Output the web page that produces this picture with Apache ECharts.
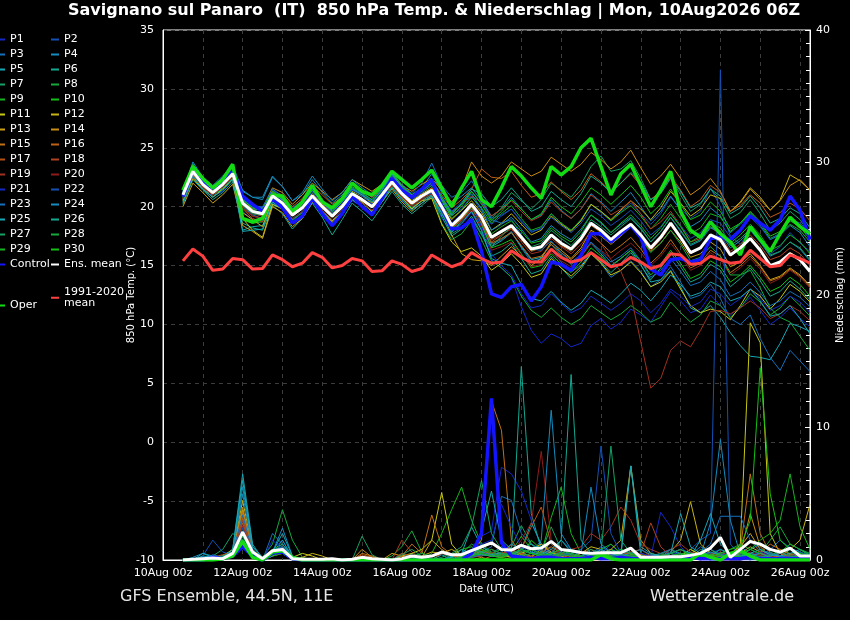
<!DOCTYPE html>
<html><head><meta charset="utf-8">
<script src="https://cdn.jsdelivr.net/npm/echarts@6/dist/echarts.min.js"></script>
<style>html,body{margin:0;padding:0;background:#000;overflow:hidden;}#c{width:850px;height:620px;}</style>
</head><body><div id="c"></div>
<script>
// ---- time axis (6-hourly, 10Aug 00z .. 26Aug 06z) ----
const dayLabels = ['10Aug','11Aug','12Aug','13Aug','14Aug','15Aug','16Aug','17Aug','18Aug','19Aug','20Aug','21Aug','22Aug','23Aug','24Aug','25Aug','26Aug'];
const hourLabels = ['00z','06z','12z','18z'];
// series start at 10Aug 12z (first two slots empty)
const leadSlots = [null, null];

// ---- 850 hPa temperature (°C), 10Aug 12z .. 26Aug 06z ----
const tP1=[20.6,22.6,21.5,20.9,21.3,22.4,19.6,18.9,18.8,20.3,19.8,18.6,19.3,20.4,19.4,18.5,19.4,20.5,20.0,19.5,20.6,21.7,20.5,19.8,20.3,21.0,19.0,17.9,18.5,19.5,18.0,15.5,14.8,14.0,11.5,9.5,8.4,9.2,8.8,8.1,8.4,9.9,10.5,9.6,10.2,11.3,10.8,10.2,11.5,12.8,12.0,11.0,11.3,12.5,11.6,10.8,11.5,12.3,11.2,10.0,10.6,11.4,10.5,9.8];
const tP2=[21.2,23.3,22.2,21.6,22.2,23.2,20.8,20.0,19.9,21.3,20.6,19.7,20.3,21.3,20.4,19.6,20.4,21.5,21.0,20.5,21.4,22.6,21.5,20.8,21.4,21.9,20.6,19.3,19.8,20.9,19.6,18.5,19.2,19.8,18.7,17.8,18.2,19.4,18.6,18.0,18.9,20.2,19.5,18.8,19.6,20.3,19.4,18.5,19.4,20.8,19.8,19.0,19.6,21.6,20.0,17.5,16.8,18.0,17.2,16.0,16.6,17.8,16.9,16.2];
const tP3=[20.8,22.8,21.8,21.0,21.7,22.6,20.0,19.3,19.0,20.6,20.0,19.0,19.6,20.6,19.7,18.8,19.7,20.8,20.3,19.7,20.7,21.9,20.8,20.0,20.6,21.2,19.6,18.2,19.0,19.9,18.6,16.8,17.2,17.9,16.5,15.3,15.6,16.4,15.3,14.5,15.0,16.2,15.2,14.0,14.6,15.4,14.5,13.2,13.8,14.9,13.6,12.2,12.5,13.4,12.2,10.5,10.0,10.8,8.8,7.2,6.1,7.8,6.9,6.0];
const tP4=[21.2,23.8,22.5,21.8,22.6,23.5,21.4,20.8,20.6,22.5,21.7,20.5,21.0,22.3,21.2,20.3,21.0,22.0,21.3,20.8,21.6,22.7,21.7,21.0,21.6,22.8,21.2,20.3,20.9,21.6,20.5,19.2,19.8,20.8,19.8,18.9,19.3,20.6,19.7,19.0,19.8,21.1,20.4,19.6,20.4,21.2,20.0,18.8,19.6,20.9,19.7,18.3,18.8,19.9,19.2,17.8,18.5,19.4,18.4,17.2,17.6,18.4,17.8,16.6];
const tP5=[20.4,22.7,21.6,21.0,21.6,22.4,18.0,18.3,18.4,20.2,19.9,18.9,19.5,20.5,19.6,18.8,19.5,20.7,20.3,19.6,20.6,21.8,20.7,19.9,20.5,21.0,19.5,17.8,18.8,19.6,18.4,16.6,17.1,17.8,16.6,15.5,15.7,16.8,15.9,15.1,15.8,16.9,16.0,15.0,15.6,16.3,15.1,13.6,13.8,14.6,13.2,11.4,11.0,11.6,10.6,9.3,8.2,7.3,7.2,7.0,8.4,10.1,9.8,9.4];
const tP6=[20.2,22.3,21.4,20.6,21.2,22.1,18.6,18.2,18.0,20.1,19.4,18.1,19.0,20.3,19.1,17.6,18.9,20.3,19.6,18.8,20.0,21.3,20.2,19.4,20.1,20.8,19.2,17.5,18.1,19.2,17.7,15.8,16.2,16.9,15.6,14.3,14.6,15.8,14.8,13.9,14.7,16.0,15.3,14.4,15.2,16.1,15.0,13.8,14.8,16.1,14.9,13.6,14.0,15.1,14.6,13.2,13.9,14.8,13.7,12.4,12.8,13.7,13.0,12.1];
const tP7=[20.9,23.1,22.0,21.3,22.0,23.0,20.5,19.8,19.7,21.2,20.6,19.6,20.1,21.2,20.3,19.4,20.2,21.4,20.9,20.2,21.2,22.5,21.4,20.6,21.2,21.8,20.4,19.2,20.0,21.3,20.3,19.0,19.9,21.2,20.5,19.8,20.6,22.0,21.4,20.8,21.9,23.4,24.3,23.0,23.2,23.9,22.4,20.6,21.2,22.5,21.0,19.6,20.2,21.5,20.6,19.0,19.5,20.6,19.4,18.0,18.6,19.6,18.9,17.6];
const tP8=[20.6,22.9,21.7,21.0,21.5,22.5,18.9,18.6,18.7,20.4,19.9,18.8,19.5,20.6,19.6,18.6,19.5,20.8,20.3,19.6,20.5,21.7,20.7,19.9,20.5,21.1,18.6,17.2,17.7,18.8,17.2,15.4,14.8,14.0,12.4,11.2,10.6,11.4,10.6,10.0,10.5,11.6,11.0,10.4,10.9,11.6,11.0,10.2,10.6,11.9,11.0,10.2,10.8,12.0,11.6,10.6,11.4,12.6,11.9,10.8,11.4,12.4,11.6,10.7];
const tP9=[21.3,23.4,22.3,21.5,22.2,23.3,20.6,20.0,19.8,21.3,20.7,19.7,20.3,21.4,20.4,19.6,20.4,21.6,21.0,20.4,21.4,22.9,21.6,20.8,21.4,22.0,20.6,19.0,19.7,20.8,19.9,18.6,19.4,20.1,19.0,18.0,18.3,19.4,18.6,18.0,18.9,20.2,19.6,18.8,19.5,20.1,19.2,18.1,19.0,20.2,19.0,17.7,18.2,19.4,19.1,17.9,18.6,19.5,18.6,17.3,17.7,18.5,18.0,17.0];
const tP10=[21.1,23.2,22.0,21.3,21.9,22.9,20.2,19.5,19.3,20.9,20.2,19.2,19.8,20.9,20.0,19.1,19.9,21.2,20.6,19.9,21.0,22.2,21.1,20.2,20.8,21.5,19.8,18.1,18.9,20.0,18.5,16.5,16.8,17.2,16.0,14.8,15.0,16.0,15.1,14.4,15.3,16.5,15.8,14.9,15.6,16.3,15.4,14.2,15.1,16.3,15.2,13.9,14.3,15.4,14.9,13.6,14.2,15.0,14.0,12.8,13.2,14.0,13.4,12.4];
const tP11=[20.5,22.4,21.5,20.8,21.5,22.3,19.0,18.0,17.4,20.2,19.8,18.6,19.2,20.6,19.7,18.8,19.5,20.9,20.4,19.6,20.8,21.9,20.8,19.8,20.5,20.7,18.5,17.0,16.2,16.5,15.8,14.6,15.2,16.0,15.1,14.0,14.3,15.6,14.8,14.1,14.9,16.0,15.2,14.2,14.6,15.3,14.4,13.2,13.6,14.5,13.0,11.6,11.0,11.3,11.1,10.4,11.6,13.0,12.4,11.3,12.2,13.4,12.8,11.9];
const tP12=[20.7,22.5,21.6,21.0,21.8,22.6,19.5,18.9,18.3,20.6,20.6,19.5,20.2,21.1,20.3,19.5,20.2,21.3,20.9,20.3,21.2,22.3,21.3,20.5,21.1,21.6,20.2,18.9,19.7,20.5,19.5,18.0,18.6,19.4,18.5,17.6,18.0,19.2,18.5,17.9,18.8,20.2,19.6,18.9,19.7,20.5,19.8,18.9,19.9,21.3,20.3,19.2,19.8,21.0,20.7,19.6,20.4,21.6,20.8,19.7,20.6,22.7,22.2,21.4];
const tP13=[20.0,22.0,21.2,20.3,21.0,21.9,18.4,17.9,17.3,20.0,19.5,18.3,19.0,20.4,19.5,18.7,19.3,20.6,20.1,19.4,20.4,21.5,20.4,19.6,20.3,20.9,19.7,17.6,16.0,15.5,15.4,15.0,15.8,16.6,15.8,15.0,15.6,17.0,16.3,15.6,16.5,18.0,17.5,16.8,17.5,18.3,17.4,16.2,16.9,18.0,17.0,15.7,16.0,17.0,16.4,14.9,15.3,16.0,15.0,13.8,14.1,14.8,14.2,13.3];
const tP14=[21.0,22.7,21.9,21.4,22.3,23.2,20.4,19.8,19.9,21.6,21.2,20.2,21.0,22.0,21.3,20.6,21.2,22.3,21.8,21.3,21.9,22.6,21.8,21.3,21.9,22.4,21.4,20.4,21.5,23.8,22.6,22.0,22.6,23.8,23.2,22.6,23.0,24.2,23.6,23.0,23.6,24.6,24.0,23.2,23.8,24.8,23.3,21.9,22.6,23.6,22.4,21.0,21.6,22.4,21.3,19.6,20.3,21.5,20.6,19.7,20.5,21.8,22.3,21.4];
const tP15=[21.0,22.9,21.8,21.1,21.9,22.7,19.9,19.2,19.0,20.8,20.4,19.4,20.0,21.0,20.2,19.3,20.0,21.1,20.6,20.0,21.0,22.0,21.0,20.3,20.8,21.3,19.9,18.3,19.0,20.0,18.8,16.9,17.3,17.8,16.7,15.6,15.8,16.8,16.1,15.5,16.3,17.6,16.9,16.1,16.7,17.4,16.4,15.2,16.0,17.2,16.0,14.8,15.2,16.3,15.8,14.4,15.0,15.8,14.9,13.7,14.0,14.7,14.1,13.2];
const tP16=[20.6,22.8,21.9,21.2,22.0,23.0,20.3,19.6,19.5,21.3,21.0,20.0,20.7,21.8,21.0,20.2,20.8,22.0,21.4,20.8,21.5,22.6,21.6,20.9,21.5,22.2,21.0,19.9,20.6,21.5,23.2,22.5,22.4,23.0,21.8,20.8,21.1,22.1,21.3,20.6,21.4,22.8,22.1,21.3,22.0,22.8,21.8,20.6,21.3,22.6,21.4,20.0,20.6,21.8,21.2,19.6,20.1,21.0,20.3,19.1,19.5,20.3,19.8,18.8];
const tP17=[20.8,22.5,21.7,21.0,21.7,22.6,19.8,19.0,18.7,20.7,20.3,19.3,19.8,20.9,20.1,19.3,19.9,21.0,20.5,19.9,20.8,21.9,20.9,20.1,20.7,21.3,19.8,18.2,18.9,19.8,18.6,17.0,17.6,18.2,17.2,16.2,16.5,17.5,16.7,16.2,17.1,18.4,17.8,17.0,17.7,18.3,17.4,16.3,17.2,18.4,17.3,16.0,16.5,17.5,17.0,15.8,16.4,17.2,16.3,15.0,15.4,16.1,15.6,14.6];
const tP18=[21.0,22.8,21.8,21.3,22.0,22.9,20.1,19.4,19.2,20.9,20.4,19.3,19.9,20.9,20.0,19.2,20.0,21.1,20.6,20.0,21.0,22.1,21.1,20.3,20.9,21.6,20.6,19.6,20.2,20.9,20.4,19.2,19.8,20.5,19.6,18.8,19.2,20.4,19.6,19.0,19.8,21.0,20.3,19.3,19.8,20.5,19.4,18.1,18.7,19.6,18.4,17.0,17.3,18.3,17.6,16.2,16.8,17.6,16.7,15.5,15.8,16.5,16.0,15.0];
const tP19=[20.9,22.9,21.8,21.2,21.9,22.7,20.2,19.5,19.3,20.8,20.2,19.2,19.8,20.8,19.9,19.1,19.9,21.0,20.5,19.9,20.9,22.0,21.0,20.2,20.8,21.3,19.9,18.3,19.1,20.1,18.9,17.2,17.6,18.1,17.0,16.0,16.2,17.3,16.6,16.0,16.8,17.9,16.9,15.5,14.5,12.5,8.5,4.6,5.4,7.8,8.6,8.1,9.5,11.1,11.2,10.9,11.4,12.0,11.4,10.5,10.9,11.6,11.1,10.3];
const tP20=[20.7,22.6,21.6,21.0,21.7,22.5,19.9,19.2,19.0,20.6,20.1,19.0,19.6,20.6,19.7,18.9,19.7,20.8,20.3,19.7,20.7,21.8,20.8,20.0,20.6,21.1,19.6,18.0,18.8,19.7,18.2,16.3,16.6,17.0,15.9,14.9,15.1,16.1,15.4,14.9,15.7,16.9,16.3,15.6,16.3,16.9,16.1,15.0,15.8,16.9,15.8,14.6,15.0,16.1,15.5,14.2,14.8,15.6,14.7,13.5,13.9,14.6,14.0,13.1];
const tP21=[21.2,23.5,22.3,21.6,22.2,23.1,20.7,20.0,19.7,21.1,20.5,19.6,20.2,21.2,20.3,19.5,20.3,21.4,20.9,20.2,21.3,22.4,21.4,20.6,21.2,22.0,20.3,18.6,19.4,20.3,18.3,16.0,15.0,14.2,12.6,11.4,11.6,12.6,11.8,11.0,11.4,12.4,11.8,11.2,11.8,12.6,12.0,11.0,11.8,13.0,12.4,11.5,11.9,13.0,12.6,11.6,12.2,13.0,12.2,11.2,11.6,12.4,11.9,11.0];
const tP22=[21.1,23.1,22.0,21.3,22.0,23.0,20.6,20.0,20.0,21.4,20.9,19.9,20.5,21.4,20.5,19.7,20.4,21.5,21.1,20.5,21.4,22.6,21.6,20.8,21.5,22.2,20.9,19.6,20.4,21.3,20.3,19.0,19.3,19.8,18.8,17.9,18.1,19.1,18.4,17.8,18.6,19.8,19.2,18.4,19.0,19.7,18.8,17.6,18.3,19.4,18.4,17.3,17.8,18.9,18.6,17.4,18.1,19.1,18.3,17.2,17.8,18.9,18.6,17.8];
const tP23=[21.3,23.4,22.4,21.7,22.3,23.2,20.7,20.1,19.9,21.5,20.9,19.8,20.4,21.5,20.6,19.8,20.6,21.6,21.1,20.6,21.5,22.7,21.9,21.1,22.0,23.7,21.8,20.8,21.2,22.2,20.8,18.9,18.6,18.9,17.6,16.4,16.3,17.1,16.1,15.3,15.9,17.0,16.2,15.3,15.8,16.5,15.4,14.0,14.6,15.6,14.5,13.3,13.6,14.5,13.8,12.4,12.8,13.6,12.7,11.6,12.0,12.8,12.3,11.5];
const tP24=[21.1,23.6,22.4,21.6,22.5,23.3,21.3,20.8,20.8,22.6,21.7,20.5,21.2,22.6,21.5,20.5,21.2,22.3,21.6,21.0,21.8,22.9,21.8,21.0,21.5,22.3,20.8,19.5,20.2,21.1,19.8,18.0,18.5,19.1,18.1,17.0,17.3,18.4,17.7,17.2,18.1,19.3,18.6,17.8,18.5,19.1,18.2,17.0,17.9,19.1,17.9,16.7,17.1,18.2,17.8,16.5,17.1,18.0,17.0,15.8,16.2,17.0,16.4,15.4];
const tP25=[20.3,22.6,21.5,20.8,21.4,22.3,17.9,18.0,18.1,20.4,19.8,18.6,19.3,20.5,19.5,18.4,19.3,20.6,20.0,19.2,20.4,21.6,20.6,19.7,20.3,20.9,19.4,17.9,18.6,19.6,18.0,15.6,15.2,15.0,13.4,12.2,12.0,12.8,11.9,11.2,11.8,12.9,12.4,11.8,12.6,13.5,12.9,12.0,13.0,14.2,13.4,12.4,12.7,13.6,13.2,12.0,12.3,13.0,12.0,10.7,10.9,11.6,10.5,9.2];
const tP26=[21.4,23.3,22.4,21.7,22.3,23.3,20.6,19.9,19.7,21.1,20.6,19.6,20.3,21.4,20.4,19.6,20.4,21.5,21.0,20.4,21.4,22.8,21.6,20.8,21.3,22.1,20.6,19.3,20.3,21.5,21.1,20.0,20.6,21.6,20.6,19.6,20.0,21.3,20.6,20.0,21.1,22.6,22.0,21.2,22.0,22.9,22.1,20.6,21.1,22.4,21.3,19.9,20.3,21.5,20.9,19.4,19.9,20.9,19.9,18.6,19.0,19.9,19.4,18.2];
const tP27=[20.9,23.0,21.9,21.1,21.8,22.8,20.1,19.4,19.3,20.8,20.2,19.2,19.8,20.9,20.0,19.1,20.0,21.1,20.6,19.9,21.0,22.2,21.1,20.2,20.9,21.4,19.7,17.7,18.2,19.0,17.6,16.6,17.5,18.3,17.5,16.6,16.9,18.0,17.3,16.7,17.6,18.9,18.3,17.6,18.3,19.0,18.1,17.0,17.9,19.1,18.0,16.8,17.2,18.3,17.9,16.7,17.3,18.1,17.1,15.9,16.2,17.0,16.5,15.5];
const tP28=[20.8,23.0,21.9,21.2,21.9,22.8,20.2,19.5,19.4,20.9,20.3,19.3,19.9,20.9,20.0,19.2,20.0,21.1,20.6,20.0,21.0,22.1,21.1,20.3,20.9,21.4,20.0,18.4,19.2,20.2,19.0,17.3,17.8,18.3,17.3,16.3,16.5,17.5,16.8,16.3,17.2,18.5,17.9,17.1,17.8,18.3,17.3,16.1,16.9,18.0,16.8,15.4,15.7,16.6,15.8,14.2,14.2,14.6,13.1,11.4,10.6,10.2,9.0,7.8];
const tP29=[21.2,23.2,22.1,21.4,22.1,23.0,20.4,19.7,19.5,21.0,20.4,19.4,20.0,21.0,20.1,19.3,20.1,21.2,20.7,20.1,21.1,22.2,21.2,20.4,21.0,21.5,20.1,18.5,19.3,20.3,19.2,17.7,18.3,18.8,17.9,16.9,17.1,18.2,17.5,17.0,17.9,19.3,18.7,17.8,18.6,19.3,18.4,17.3,18.2,19.4,18.3,17.0,17.5,18.6,18.2,16.9,17.6,18.5,17.6,16.3,16.7,17.6,17.0,16.0];
const tP30=[21.4,23.6,22.4,21.6,22.3,23.4,20.6,19.9,19.8,21.3,20.7,19.7,20.4,21.4,20.5,19.7,20.5,21.7,21.2,20.6,21.6,23.0,21.8,21.0,21.6,22.2,20.8,19.4,20.2,21.3,20.2,18.8,19.6,20.6,19.8,18.9,19.4,20.8,20.0,19.4,20.4,21.6,21.0,20.2,21.0,21.8,20.8,19.4,20.2,21.5,20.2,18.9,19.3,20.4,19.6,18.1,18.6,19.6,18.7,17.5,17.9,18.8,18.3,17.2];
const tControl=[20.85,23.1,22.0,21.6,22.1,23.1,20.9,20.2,19.6,20.7,19.9,18.6,19.2,20.7,19.4,18.4,19.4,20.9,20.0,19.3,20.7,22.4,21.4,20.8,21.5,22.3,20.0,18.1,18.2,18.9,16.2,12.6,12.3,13.2,13.4,12.0,13.2,15.3,15.1,14.6,15.9,17.7,17.7,17.0,17.7,18.4,17.4,14.7,14.2,15.5,15.6,15.3,15.5,17.3,17.4,17.2,18.0,19.2,18.6,18.0,18.9,20.9,19.7,17.2];
const tOper=[21.4,23.4,22.4,21.6,22.3,23.6,19.0,18.7,19.0,21.0,20.9,19.6,20.4,21.8,20.4,19.9,20.7,22.0,21.3,21.0,21.8,23.0,22.3,21.6,22.3,23.1,21.6,20.0,21.6,23.0,20.6,20.0,21.6,23.4,22.6,21.6,20.7,23.4,22.7,23.4,25.0,25.8,23.4,21.0,22.8,23.6,21.8,20.0,21.4,23.0,19.6,18.0,17.4,18.7,17.7,17.0,15.9,18.3,17.2,16.2,17.7,19.1,18.3,17.7];
const tEnsMean=[21.0,23.0,21.9,21.2,21.9,22.8,20.3,19.6,19.4,20.9,20.3,19.3,19.9,20.9,20.0,19.2,20.0,21.1,20.6,20.0,21.0,22.1,21.1,20.3,20.9,21.4,20.0,18.4,19.2,20.2,19.1,17.4,17.9,18.4,17.4,16.4,16.6,17.6,16.9,16.4,17.3,18.6,18.0,17.2,17.9,18.5,17.6,16.5,17.4,18.6,17.4,16.1,16.5,17.6,17.2,15.9,16.5,17.3,16.3,15.0,15.3,16.0,15.5,14.5];
const tClim=[15.4,16.4,15.8,14.6,14.7,15.6,15.5,14.7,14.75,15.9,15.5,14.9,15.2,16.1,15.7,14.8,15.0,15.6,15.4,14.5,14.55,15.4,15.1,14.5,14.75,15.9,15.4,14.9,15.2,16.1,15.6,15.2,15.3,16.25,15.7,15.3,15.3,16.4,15.7,15.3,15.5,16.1,15.5,14.9,15.1,15.7,15.3,14.75,15.0,16.0,15.9,15.1,15.2,15.8,15.5,15.2,15.3,16.3,15.6,14.9,15.0,15.9,15.6,15.2];

// ---- Niederschlag (mm / 6h), 10Aug 12z .. 26Aug 06z ----
const rP1=[0,0,0,0.2,0.3,0.5,2.5,0.6,0,0.8,1.5,0.2,0,0,0,0,0,0,0,0,0,0,0,0.3,0.2,0,0.5,0.3,0.2,0.6,1.8,2.2,7.0,6.5,5.2,3.0,1.0,0.5,0.3,0.2,0,0,0.3,0.8,0.5,0,0,0.2,3.6,2.5,1.0,0.3,0,0.2,0.5,0,0,0,0.3,0.8,0.5,0.2,0,0];
const rP2=[0,0,0.3,1.5,0.6,0.4,2.2,0.5,0,0.6,0.9,0,0,0,0,0,0,0,0,0,0,0,0,0,0,0,0,0,0,0.3,0.5,0.8,0.5,0.2,0,0.3,1.2,0.8,0.2,0,0,0,0.5,1.2,0.4,0,0,0,0,0,0.3,0.8,1.5,2.0,37.0,1.2,0.3,0,0,0,0.2,0.5,0.2,0];
const rP3=[0,0,0,0.4,0.2,0.6,3.0,0.8,0,2.0,1.2,0.3,0,0,0,0,0,0,0,0,0,0,0.5,0.2,0,0,0,0,0.3,0.5,0.6,1.0,4.8,4.5,2.0,1.2,0.8,0.5,1.5,0.8,0.2,0.5,1.0,0.6,0.3,0.8,0.4,0.2,0.5,0.3,0,0.4,1.0,0.6,0.3,0.2,1.0,0.5,0.3,0.8,1.5,0.9,0.6,0.3];
const rP4=[0,0.2,0.5,0.3,0,0.5,5.5,1.0,0.2,0.6,2.4,0.3,0,0,0,0,0,0,0,0.2,0,0,0,0,0,0,0,0,0,0.3,0.3,0.5,1.0,0.6,0.3,0,0.2,0.5,0.3,0.2,0,0.4,0.3,0.2,0.6,0.5,0.3,0,0,0,0.2,0.5,0.3,2.8,9.1,3.0,0.4,0.2,0,0.3,0.5,0.2,0,0];
const rP5=[0,0,0.5,0.2,0,0.8,6.5,1.2,0.1,0.5,1.5,0.2,0,0,0,0,0,0,0,0,0,0,0,0,0,0,0.4,0,0.5,2.5,1.0,0.6,0.4,0.3,0.8,2.8,1.2,0.5,0.8,0.4,0.2,0,0.3,0.8,0.5,7.1,0.4,0.2,0.2,0.8,0.4,0.3,1.5,3.5,1.2,0.5,0.3,0.8,1.2,0.6,0.2,0,0,0];
const rP6=[0,0,0,0,0.3,0.5,3.5,0.5,0,0.3,0.8,0,0,0,0,0,0,0,0,0.3,0,0,0,0,0,0,0,0.2,0,0.3,1.0,0.5,0.3,0.6,14.6,3.5,0.8,0.3,0.6,0.2,0,0.3,0.5,0.8,0.3,0,0.2,0,0,0,0.3,0.6,0.2,0,0,0.3,0.6,0.4,0.2,0,0,0,0.3,0.1];
const rP7=[0,0,0,0.3,0.8,2.0,1.5,0.4,0,0.4,0.6,0,0,0,0,0,0,0,1.8,0.4,0,0,0,0.5,0.3,0,0,0,0.2,0.4,0.6,0.3,0.2,1.0,2.6,1.2,0.6,2.5,0.8,0.4,0,0.3,0.8,0.4,0,0.2,0.5,0.3,0.2,0,0,0.2,0.8,0.5,0.3,0,0.2,0.5,0.3,0.6,0.2,0.8,0.4,0.2];
const rP8=[0,0,0,0.1,0.2,0.8,1.8,0.5,0.2,1.2,3.8,1.5,0.2,0,0,0,0,0,0,0,0,0.3,1.0,2.2,0.6,0,0,0.2,0.5,1.2,0.8,0.5,0.3,0.5,1.2,0.8,0.5,0.3,0.2,0,0.3,0.6,0.4,0.2,0.8,0.5,0.2,0,0.4,0.8,0.2,0,0.3,0.5,0.2,0,0,0.3,0.5,0.2,0,0.4,0.6,0.3];
const rP9=[0,0,0,0,0,0.3,1.2,0.4,0,0.6,1.0,0,0,0,0,0,0,0,0,0,0,0,0,0,0,0.5,2.0,3.8,5.5,3.0,1.2,0.6,0.4,0.6,1.8,0.8,0.5,3.2,5.5,2.0,0.5,0.3,0.2,0.8,0.4,0.2,0,0.3,0.5,0.2,0,0.3,0.6,0.4,0.2,0,0,0.2,0.5,0.3,0.8,0.5,0.2,0];
const rP10=[0,0,0,0,0,0.4,1.5,0.6,0,0.8,1.2,0.3,0,0,0,0,0,0,0,0,0,0,0,0,0,0,0,0.4,0.8,1.0,0.6,0.5,0.8,0.5,0.3,1.5,0.8,0.4,0.2,0,0.3,0.5,0.8,1.2,0.5,0.3,0,0,0,0.2,0.4,0.8,0.3,0.2,0.5,0.3,0.5,0.8,0.4,0.2,0.6,1.2,0.8,0.3];
const rP11=[0,0,0,0.2,0.3,0.8,3.2,0.6,0.2,0.5,0.8,0.2,0.5,0.3,0,0,0,0,0,0,0,0,0.3,0.5,0.8,1.5,5.1,1.2,0.3,0.5,0.8,0.4,0.5,0.8,0.4,0.2,0.3,1.5,0.6,0.2,0,0.3,0.5,0.2,0,0.4,0.2,0,0,0,0.3,0.8,0.4,0.2,0,0.3,1.2,17.9,16.4,2.0,0.5,0.3,0.2,0];
const rP12=[0,0,0,0.1,0.2,0.5,4.5,0.8,0.1,0.4,0.6,0,0.2,0.5,0.3,0,0,0,0,0,0,0,0,0,0.3,0.6,0.5,0.8,0.4,0.3,0.6,0.3,0.2,0.3,0.5,0.8,1.2,0.6,0.3,0.2,0.5,1.0,0.8,0.3,0.5,0.8,0.4,0.2,0.3,0.6,1.5,4.4,1.2,0.5,0.3,0.2,0.5,1.0,0.6,0.2,0.3,0.8,1.5,4.2];
const rP13=[0,0,0,0,0.2,0.4,3.8,0.5,0,0.3,0.5,0,0,0,0,0,0,0,0,0,0,0.5,0.3,0,0.2,1.5,0.8,0.3,0.2,0.4,0.6,0.5,0.3,0.5,0.6,0.2,0.8,0.5,0.3,0.2,0,0.3,0.5,0.8,1.5,7.1,1.5,0.5,0.3,0.5,0.2,0,0.4,0.8,0.3,0.5,1.0,2.0,0.8,0.3,0.5,0.2,0,0];
const rP14=[0,0,0.1,0,0.2,0.6,4.0,0.6,0,0.5,1.0,0.2,0,0,0,0,0,0,0.8,0.2,0,0,0,0,0,0,0,0,0,0,0.2,0,0,0.2,0.3,0.2,0,0.2,0.5,0.3,0,0,0.2,0.4,0.3,0,0.2,0,0,0,0.2,0,0.4,0.2,0,0,0.5,3.5,1.0,0.3,0,0.2,0,0];
const rP15=[0,0,0,0.2,0,0.5,3.6,0.8,0,0.6,1.0,0.2,0,0,0,0,0,0,0.5,0.3,0,0,0.3,1.2,0.5,3.4,1.0,0.4,0.3,0.6,1.5,12.0,9.8,1.5,0.5,0.3,0.6,1.0,0.5,0.2,0.3,0.5,0.2,0,0.3,0.6,0.4,0.2,0,0.3,0.5,0.2,0,0.4,0.6,0.3,0.8,6.5,2.0,0.5,0.3,0.2,0,0];
const rP16=[0,0,0.2,0.1,0.2,0.4,2.8,0.4,0,0.4,0.6,0,0,0,0,0,0,0,0,0,0,0,0,0,0,0,0,0,0,0,0,0.3,0.5,0.3,0.2,0,0,0.3,0.2,0,0,0,0,0.2,0.3,0.5,0.3,0,0,0,0,0.2,0,0.3,0.5,0.2,0,0.2,0.5,1.2,0.8,0.4,0.2,0];
const rP17=[0,0,0,0.2,0.4,0.6,3.2,0.5,0,0.5,0.9,0.2,0,0,0,0,0,0,0.4,0.2,0,0,0.5,0.3,0,0,0.5,0.3,0.2,0.4,0.8,0.5,0.3,1.2,0.8,2.5,4.0,1.2,0.5,0.3,0.5,0.8,0.3,0.2,0.4,0.6,0.8,0.3,0.2,0.5,0.8,0.4,0.2,0,0.3,0.5,0.8,1.5,0.6,0.3,0.2,0.5,0.3,0];
const rP18=[0,0,0,0,0.3,0.5,3.0,0.6,0,0.3,0.7,0,0,0,0,0,0,0,0.3,0,0,0,1.5,0.6,0,0,0,0,0,0.2,0.3,0.5,0.3,0.8,0.5,0.2,0.4,0.8,0.4,0,0,0.2,0.4,0.6,0.3,0.2,0.5,2.8,1.0,0.3,0,0.2,0.5,0.3,0,0,0,0.3,0.6,0.2,0,0,0.3,0.2];
const rP19=[0,0,0,0.1,0.2,0.4,2.6,0.5,0,0.4,0.8,0.2,0,0,0,0,0,0,0,0,0,0,0,0.2,0,0,0,0,0,0.2,0.4,0.8,0.5,0.8,1.2,0.6,0.4,0.3,0.5,0.8,1.0,2.0,1.5,2.5,4.0,3.0,1.2,0.8,0.5,0.8,1.2,0.6,0.4,0.3,0.2,0.2,0.3,0.6,0.3,0.2,0.5,0.3,0.2,0];
const rP20=[0,0,0,0.1,0,0.3,2.0,0.4,0,0.3,0.5,0,0,0,0,0,0,0,0,0,0,0,0,0,0,0,0,0,0.3,0.5,0.4,0.6,0.3,0.5,1.5,2.8,8.2,1.5,0.4,0.2,0,0.3,0.5,0.2,0,0.3,0.5,0.2,0,0.2,0.3,0,0.2,0.5,0.3,0,0,0.2,0.4,0.2,0,0,0.2,0];
const rP21=[0,0,0,0.2,0.2,0.4,2.0,0.8,0,1.5,0.8,0.3,0,0,0,0,0,0,0,0,0,0,0,0.3,0,0,0,0.3,0.5,0.8,1.2,1.5,4.2,2.5,1.0,0.5,0.8,1.5,0.6,0.3,0.2,0.5,0.8,0.4,0.3,0.2,0.5,0.3,0.3,0.6,0.4,0.2,0.3,0.8,0.5,0.3,0.2,0.3,0.6,0.4,0.3,0.2,0.3,0.2];
const rP22=[0,0,0,0,0.2,0.5,2.4,0.4,0,0.5,1.0,0.2,0,0,0,0,0,0,0,0,0,0,0,0,0,0,0,0,0.2,0.3,0.5,0.3,0.5,0.3,0.2,0.5,0.8,0.4,0.3,0.5,0.8,1.5,8.6,2.0,0.5,0.3,0.2,0,0.3,0.5,0.2,0,0.2,0.5,0.8,0.3,0.2,0,0.2,0.5,0.3,0.2,0.6,0.3];
const rP23=[0,0,0.2,0.3,0.2,0.5,3.4,0.6,0,0.6,1.0,0.3,0,0,0,0,0,0,0,0,0,0,0,0,0,0,0,0,0,0.2,0.4,0.3,0.3,0.5,0.8,0.5,0.3,0.2,0.4,0.5,0.3,0.6,0.4,0.3,0.5,0.8,0.3,0.2,0.5,0.8,0.5,0.3,0.6,1.2,3.3,3.3,3.3,1.5,0.8,0.5,0.3,0.2,0.2,0];
const rP24=[0,0,0,0.1,0.3,0.6,5.0,0.8,0,0.5,1.2,0.2,0,0,0,0,0,0,0,0,0,0,0,0,0,0,0,0.3,0.5,0.8,0.6,0.4,0.6,1.2,0.8,0.5,1.5,11.3,2.0,0.8,0.5,5.5,1.2,0.6,0.3,0.5,0.8,0.4,0.3,0.5,0.8,0.5,0.3,0.6,0.4,0.2,0.3,0.5,0.2,0.3,0.5,0.8,0.4,0.2];
const rP25=[0,0,0.3,0.2,0.2,0.8,6.0,1.0,0.2,0.6,2.0,0.3,0,0,0,0,0,0,0,0,0,0,0,0.2,0,0,0,0.2,0.8,0.5,2.2,5.2,1.5,0.8,1.2,0.6,0.4,0.8,1.5,0.6,0.5,0.3,0.8,0.5,0.3,7.1,1.0,0.5,0.3,0.5,3.5,1.0,0.5,0.3,0.8,0.5,0.3,0.5,0.8,0.4,0.3,0.5,0.8,0.4];
const rP26=[0,0,0,0,0.2,0.4,2.2,0.4,0,0.3,0.8,0.2,0,0,0,0,0,0,0,0,0,0,0,0,0,0,0,0,0.3,0.5,0.4,0.3,0.5,0.3,0.8,1.2,0.6,0.4,1.5,14.0,1.5,0.5,0.3,0.2,0.4,0.3,0.2,0,0,0.2,0.3,0.5,0.2,0,0.3,0.2,0.2,0.3,0.5,0.2,0,0.2,0.3,0];
const rP27=[0,0,0,0.2,0.3,0.5,1.6,0.4,0,0.5,0.8,0,0,0,0,0,0,0,0,0,0,0,0.4,0.8,0.3,0,0.2,0.5,1.0,2.5,6.0,2.0,0.8,0.5,0.3,0.8,0.5,0.3,0.6,0.4,0.3,0.8,0.5,8.6,1.5,0.5,0.3,0.2,0.3,0.5,0.3,0.2,0.5,0.8,0.4,0.3,0.5,0.3,0.2,0.4,0.6,0.3,0.2,0];
const rP28=[0,0,0,0,0.2,0.4,1.8,0.5,0,0.4,0.7,0,0,0,0,0,0,0,0,0,0,0,0,0.3,0.5,0.3,0,0,0.2,0.4,0.6,0.8,0.5,0.3,0.6,0.8,0.4,0.3,0.5,0.8,0.6,0.4,0.3,0.5,0.8,0.5,0.3,0.2,0.3,0.5,0.8,0.4,0.3,0.2,0.5,0.8,1.2,0.8,0.5,1.5,2.5,1.2,0.8,0.5];
const rP29=[0,0,0,0,0.2,0.3,1.4,0.3,0,0.4,0.6,0,0,0,0,0,0,0,0,0,0,0,0,0,0,0,0,0,0.3,0.5,0.8,0.5,0.3,0.5,0.8,0.5,0.3,0.5,0.8,0.5,0.3,0.2,0.4,0.6,0.3,0.2,0.3,0.2,0.2,0.3,0.5,0.3,0.2,0.4,0.3,0.2,0.3,0.8,1.5,2.0,3.0,6.5,2.5,0.8];
const rP30=[0,0,0,0,0.1,0.3,1.2,0.3,0,0.3,0.5,0,0,0,0,0,0,0,0,0,0,0,0,0,0,0,0,0,0.2,0.3,0.5,0.3,0.2,0.4,0.3,0.5,0.3,0.2,0.4,0.3,0.2,0.3,0.5,0.3,0.2,0.4,0.3,0.2,0.3,0.2,0.4,0.5,0.3,0.2,0.5,0.8,1.0,3.0,14.5,5.0,1.5,0.8,0.5,0.3];
const rControl=[0,0,0,0.2,0.1,0.3,1.0,0.3,0,0.5,0.6,0.1,0,0,0,0,0,0,0,0,0,0,0,0,0,0,0,0,0,0.5,2.0,12.2,1.3,0.3,0.2,0.1,0.2,0.2,0.1,0.1,0.1,0.2,0.1,0.1,0.2,0.1,0.1,0.1,0.1,0.2,0.1,0.2,0.1,0.1,0.1,0.1,0.1,0.2,0.1,0.1,0.1,0.1,0.1,0.1];
const rOper=[0,0,0,0,0.1,0.3,1.4,0.2,0,0.6,0.7,0.2,0,0,0,0,0,0,0,0,0,0,0,0,0,0,0,0,0,0,0,0,0,0,0,0,0,0,0,0,0,0,0.4,0.1,0,0,0,0,0,0,0,0,0.5,0.2,0,0.5,0.7,0.3,0,0,0,0,0,0];
const rEnsMean=[0,0.05,0.1,0.15,0.1,0.5,2.1,0.6,0.1,0.7,0.8,0.1,0.05,0.05,0.05,0.1,0,0.05,0.2,0.1,0.05,0,0.1,0.3,0.2,0.3,0.6,0.4,0.4,0.7,1.0,1.3,0.8,0.75,1.1,0.85,0.9,1.4,0.8,0.7,0.57,0.5,0.55,0.55,0.55,0.9,0.2,0.2,0.2,0.25,0.25,0.35,0.5,0.9,1.7,0.2,0.8,1.4,1.2,0.8,0.6,0.9,0.3,0.3];

// ---- names / colours ----
const memberNames=['P1','P2','P3','P4','P5','P6','P7','P8','P9','P10','P11','P12','P13','P14','P15','P16','P17','P18','P19','P20','P21','P22','P23','P24','P25','P26','P27','P28','P29','P30'];
const memberPalette=['#1428c8','#1450b4','#1470be','#148cbe','#14a8b4','#14a890','#14a064','#14a83c','#14b41e','#14c014','#c8c814','#c8b414','#c8a014','#c88c14','#c07014','#c06014','#b45014','#b04020','#a03020','#8c1c1c'];
const memberTemp=[tP1,tP2,tP3,tP4,tP5,tP6,tP7,tP8,tP9,tP10,tP11,tP12,tP13,tP14,tP15,tP16,tP17,tP18,tP19,tP20,tP21,tP22,tP23,tP24,tP25,tP26,tP27,tP28,tP29,tP30];
const memberRain=[rP1,rP2,rP3,rP4,rP5,rP6,rP7,rP8,rP9,rP10,rP11,rP12,rP13,rP14,rP15,rP16,rP17,rP18,rP19,rP20,rP21,rP22,rP23,rP24,rP25,rP26,rP27,rP28,rP29,rP30];

const FONT='DejaVu Sans';
const cats=[];
for(const d of dayLabels){for(const h of hourLabels){ if(cats.length<66) cats.push(d+' '+h);} }

const pad=a=>leadSlots.concat(a);
const series=[];
memberNames.forEach((n,k)=>{
  const col=memberPalette[k%20];
  series.push({name:n,type:'line',yAxisIndex:0,data:pad(memberTemp[k]),symbol:'none',lineStyle:{width:1,color:col},itemStyle:{color:col},z:2});
});
memberNames.forEach((n,k)=>{
  const col=memberPalette[k%20];
  series.push({name:n,type:'line',yAxisIndex:1,data:pad(memberRain[k]),symbol:'none',lineStyle:{width:1,color:col},itemStyle:{color:col},z:2});
});
const special=[
  ['Control','#1414ff',tControl,rControl,3.5],
  ['Oper','#14dc14',tOper,rOper,3.5],
  ['Ens. mean','#ffffff',tEnsMean,rEnsMean,3]
];
special.forEach(([n,col,t,r,w],j)=>{
  series.push({name:n,type:'line',yAxisIndex:0,data:pad(t),symbol:'none',lineStyle:{width:w,color:col},itemStyle:{color:col},z:3+j});
  series.push({name:n,type:'line',yAxisIndex:1,data:pad(r),symbol:'none',lineStyle:{width:w,color:col},itemStyle:{color:col},z:3+j});
});
series.push({name:'1991-2020 mean',type:'line',yAxisIndex:0,data:pad(tClim),symbol:'none',lineStyle:{width:3,color:'#ff4040'},itemStyle:{color:'#ff4040'},z:7});

const legendBase={orient:'vertical',icon:'rect',itemWidth:8,itemHeight:2,itemGap:2,selectedMode:false,padding:0,
  textStyle:{color:'#ffffff',fontSize:11,lineHeight:13,fontFamily:FONT}};
const colA=[],colB=[];
memberNames.forEach((n,k)=>{(k%2===0?colA:colB).push(n);});
colA.push('Control'); colB.push('Ens. mean');

const chart=echarts.init(document.getElementById('c'),null,{renderer:'canvas',width:850,height:620});
chart.setOption({
  backgroundColor:'#000000',
  animation:false,
  textStyle:{fontFamily:FONT},
  title:[
    {text:'Savignano sul Panaro  (IT)  850 hPa Temp. & Niederschlag | Mon, 10Aug2026 06Z',left:68,top:3,padding:0,
     textStyle:{color:'#ffffff',fontSize:16,fontWeight:'bold',fontFamily:FONT}},
    {text:'GFS Ensemble, 44.5N, 11E',left:120,top:589,padding:0,textStyle:{color:'#e6e6e6',fontSize:16,fontWeight:'normal',fontFamily:FONT}},
    {text:'Wetterzentrale.de',left:650,top:589,padding:0,textStyle:{color:'#e6e6e6',fontSize:16,fontWeight:'normal',fontFamily:FONT}}
  ],
  legend:[
    Object.assign({},legendBase,{data:colA,left:-3,top:33}),
    Object.assign({},legendBase,{data:colB,left:51,top:33}),
    Object.assign({},legendBase,{data:['1991-2020 mean'],left:51,top:287,formatter:()=> '1991-2020\nmean',textStyle:{color:'#ffffff',fontSize:11,lineHeight:10.5,fontFamily:FONT}}),
    Object.assign({},legendBase,{data:['Oper'],left:-3,top:299})
  ],
  grid:{left:163,right:40,top:30,bottom:60,show:true,borderColor:'#ffffff',borderWidth:1,backgroundColor:'#000000',
        containLabel:false,outerBoundsMode:'none'},
  xAxis:{type:'category',data:cats,boundaryGap:false,
    axisLine:{show:true,onZero:false,lineStyle:{color:'#ffffff'}},
    axisTick:{show:false},
    axisLabel:{interval:(i)=>i%8===0,color:'#ffffff',fontSize:11,margin:8,fontFamily:FONT},
    splitLine:{show:true,interval:(i)=>i%4===0&&i>0,lineStyle:{color:'#3c3c3c',type:[4,4],width:1}},
    name:'Date (UTC)',nameLocation:'middle',nameGap:24,nameMoveOverlap:false,nameTextStyle:{color:'#ffffff',fontSize:10,fontFamily:FONT}},
  yAxis:[
    {type:'value',min:-10,max:35,interval:5,position:'left',
     axisLine:{show:true,lineStyle:{color:'#ffffff'}},axisTick:{show:false},
     axisLabel:{color:'#ffffff',fontSize:11,margin:9,fontFamily:FONT},
     splitLine:{show:true,lineStyle:{color:'#3c3c3c',type:[4,4],width:1}},
     name:'850 hPa Temp. (°C)',nameLocation:'middle',nameGap:27,nameMoveOverlap:false,nameTextStyle:{color:'#ffffff',fontSize:10,fontFamily:FONT}},
    {type:'value',min:0,max:40,interval:10,position:'right',
     axisLine:{show:true,lineStyle:{color:'#ffffff'}},
     axisTick:{show:true,inside:true,length:5,lineStyle:{color:'#ffffff'}},
     minorTick:{show:true,splitNumber:10,length:4,lineStyle:{color:'#ffffff'}},
     axisLabel:{color:'#ffffff',fontSize:11,margin:6,fontFamily:FONT},
     splitLine:{show:false},
     name:'Niederschlag (mm)',nameLocation:'middle',nameGap:25,nameMoveOverlap:false,nameTextStyle:{color:'#ffffff',fontSize:10,fontFamily:FONT}}
  ],
  series:series
});
</script></body></html>
